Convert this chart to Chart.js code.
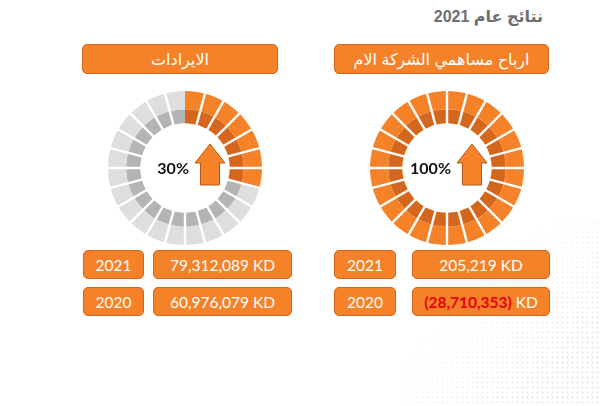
<!DOCTYPE html>
<html>
<head>
<meta charset="utf-8">
<script src="https://cdn.jsdelivr.net/npm/chart.js@4"></script>
<style>
    html, body { margin: 0; padding: 0; background: #fff; }
    body { width: 600px; height: 406px; position: relative; overflow: hidden; font-family: Lato, "DejaVu Sans", sans-serif; }
    .dots {
        position: absolute; left: 400px; top: 220px; width: 200px; height: 186px;
        background-image: radial-gradient(circle, #dcdcdc 0.9px, transparent 1.3px);
        background-size: 5px 5px;
        -webkit-mask-image: linear-gradient(135deg, transparent 35%, #000 80%);
        mask-image: linear-gradient(135deg, transparent 35%, #000 80%);
        opacity: 0.6;
    }
    .title { position: absolute; right: 57px; top: 7px; font: bold 16px "Liberation Sans", "DejaVu Sans", sans-serif; color: #6e6e6e; direction: rtl; }
    .box {
        position: absolute; background: #f58228; border: 1px solid #d0661c; border-radius: 5px;
        color: #fff; display: flex; align-items: center; justify-content: center; box-sizing: border-box;
    }
    .head { font: 16px "Liberation Sans", "DejaVu Sans", sans-serif; direction: rtl; }
    .val { font: 15.5px Lato, sans-serif; }
    .neg { color: #e8000b; font-weight: bold; }
    canvas { position: absolute; }
</style>
</head>
<body>
<div class="dots"></div>
<div class="title" id="title"></div>
<canvas id="donutRevenue" width="156" height="156" style="left:107px; top:90px;"></canvas>
<canvas id="donutProfit" width="156" height="156" style="left:369px; top:90px;"></canvas>
<script>
    const pageTitle = 'نتائج عام 2021';
    const titles = ['الايرادات', 'ارباح مساهمي الشركة الام'];
    const percents = [30, 100];
    const years = ['2021', '2020'];
    const revenueValues = ['79,312,089', '60,976,079'];
    const profitValues = ['205,219', '(28,710,353)'];
    const unit = 'KD';
    const segmentCount = 24;

    document.getElementById('title').textContent = pageTitle;

    // Boxes
    function addBox(left, top, w, h, cls, html) {
        const d = document.createElement('div');
        d.className = 'box ' + cls;
        d.style.left = left + 'px'; d.style.top = top + 'px';
        d.style.width = w + 'px'; d.style.height = h + 'px';
        d.innerHTML = html;
        document.body.appendChild(d);
    }
    addBox(82, 44, 196, 30, 'head', titles[0]);
    addBox(334, 44, 215, 30, 'head', titles[1]);

    const panels = [
        { yearLeft: 83, yearW: 61, valLeft: 153, valW: 139, values: revenueValues },
        { yearLeft: 334, yearW: 62, valLeft: 412, valW: 138, values: profitValues }
    ];
    const rowTops = [250, 287];
    panels.forEach(p => {
        years.forEach((yr, i) => {
            addBox(p.yearLeft, rowTops[i], p.yearW, 29, 'val', yr);
            const v = p.values[i];
            const txt = v.startsWith('(') ? '<span class="neg">' + v + '</span>&nbsp;' + unit : v + ' ' + unit;
            addBox(p.valLeft, rowTops[i], p.valW, 29, 'val', txt);
        });
    });

    // Separators + centre label + arrow
    const donutDecor = {
        id: 'donutDecor',
        afterDatasetsDraw(chart) {
            const outer = chart.getDatasetMeta(0).data;
            const inner = chart.getDatasetMeta(1).data;
            const cx = outer[0].x, cy = outer[0].y;
            const rOut = outer[0].outerRadius + 1, rIn = inner[0].innerRadius - 1;
            const lit = chart.options.plugins.donutDecor.lit;
            const ctx = chart.ctx;
            ctx.save();
            ctx.strokeStyle = '#ffffff';
            ctx.lineWidth = 2.4;
            outer.forEach((arc, i) => {
                if (i === 0 && lit < segmentCount) return;
                const a = arc.startAngle;
                ctx.beginPath();
                ctx.moveTo(cx + Math.cos(a) * rIn, cy + Math.sin(a) * rIn);
                ctx.lineTo(cx + Math.cos(a) * rOut, cy + Math.sin(a) * rOut);
                ctx.stroke();
            });
            // label
            ctx.fillStyle = '#111';
            ctx.font = 'bold 16px Lato, sans-serif';
            ctx.textAlign = 'right';
            ctx.textBaseline = 'middle';
            ctx.fillText(chart.options.plugins.donutDecor.label, cx + 4, cy + 1);
            // arrow
            const ax = cx + 25;
            ctx.beginPath();
            ctx.moveTo(ax, cy - 24);
            ctx.lineTo(ax + 15, cy - 5);
            ctx.lineTo(ax + 9.5, cy - 5);
            ctx.lineTo(ax + 9.5, cy + 17);
            ctx.lineTo(ax - 9.5, cy + 17);
            ctx.lineTo(ax - 9.5, cy - 5);
            ctx.lineTo(ax - 15, cy - 5);
            ctx.closePath();
            ctx.fillStyle = '#f58228';
            ctx.fill();
            ctx.strokeStyle = '#b9581a';
            ctx.lineWidth = 1;
            ctx.stroke();
            ctx.restore();
        }
    };

    function makeDonut(id, pct) {
        const lit = Math.round(pct / 100 * segmentCount);
        const ones = Array(segmentCount).fill(1);
        const outerColors = ones.map((_, i) => i < lit ? '#f58228' : '#dedede');
        const innerColors = ones.map((_, i) => i < lit ? '#d4661d' : '#b4b4b4');
        new Chart(document.getElementById(id).getContext('2d'), {
            type: 'doughnut',
            data: {
                labels: ones.map((_, i) => 'seg' + (i + 1)),
                datasets: [
                    { data: ones, backgroundColor: outerColors, borderWidth: 0, weight: 18 },
                    { data: ones, backgroundColor: innerColors, borderWidth: 0, weight: 14 }
                ]
            },
            options: {
                responsive: false,
                animation: false,
                cutout: '58%',
                layout: { padding: 1 },
                plugins: {
                    legend: { display: false },
                    tooltip: { enabled: false },
                    donutDecor: { label: pct + '%', lit: lit }
                }
            },
            plugins: [donutDecor]
        });
    }
    makeDonut('donutRevenue', percents[0]);
    makeDonut('donutProfit', percents[1]);
</script>
</body>
</html>
